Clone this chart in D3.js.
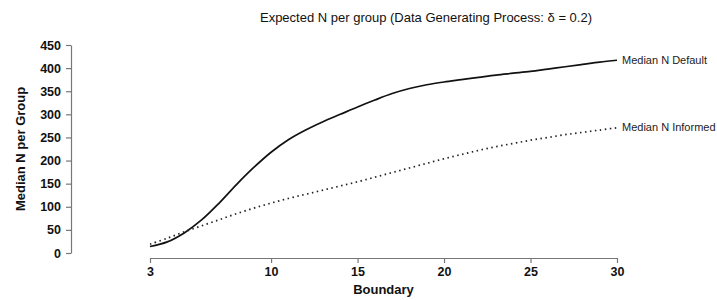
<!DOCTYPE html>
<html><head><meta charset="utf-8">
<script src="https://cdn.jsdelivr.net/npm/d3@7"></script>
<style>body{margin:0;background:#fff}svg{display:block}text{font-family:"Liberation Sans",Arial,sans-serif}</style>
</head><body>
<svg id="c" width="717" height="300"></svg>
<script>
const boundary = [3,4,5,6,7,8,9,10,11,12,13,14,15,16,17,18,19,20,21,22,23,24,25,26,27,28,29,30];
const medianDefault = [14,24,44,72,108,148,185,218,245,266,284,300,316,331,345,356,364,370,375,380,385,389,393,398,403,408,413,417];
const medianInformed = [19,32,46,59,72,85,97,108,118,127,136,145,154,164,174,184,194,204,213,222,230,237,244,250,256,261,266,271];
const xTicks = [3,10,15,20,25,30];
const yTicks = [0,50,100,150,200,250,300,350,400,450];
const seriesLabels = ["Median N Default","Median N Informed"];

const svg = d3.select("#c");
const x = d3.scaleLinear().domain([3,30]).range([150,617]);
const y = d3.scaleLinear().domain([0,450]).range([253,45]);

const xAxis = svg.append("g").attr("transform","translate(0,258)")
  .call(d3.axisBottom(x).tickValues(xTicks).tickSize(5).tickSizeOuter(0).tickFormat(d3.format("d")));
const yAxis = svg.append("g").attr("transform","translate(71,0)")
  .call(d3.axisLeft(y).tickValues(yTicks).tickSize(5).tickSizeOuter(0));
[xAxis,yAxis].forEach(a=>{
  a.selectAll("path,line").attr("stroke","#777").attr("stroke-width",1.2);
  a.selectAll("text").attr("fill","#111").style("font-size","12.5px").style("font-weight","bold");
});
yAxis.selectAll("text").attr("x",-10);
xAxis.selectAll("text").attr("y",9);

const line = d3.line().x((d,i)=>x(boundary[i])).y(d=>y(d)).curve(d3.curveCatmullRom);
svg.append("path").datum(medianDefault).attr("d",line)
  .attr("fill","none").attr("stroke","#111").attr("stroke-width",1.7);
svg.append("path").datum(medianInformed).attr("d",line)
  .attr("fill","none").attr("stroke","#222").attr("stroke-width",1.7)
  .attr("stroke-dasharray","1.5,3.5");

svg.append("text").attr("x",622).attr("y",y(medianDefault[medianDefault.length-1])+4)
  .style("font-size","11px").attr("fill","#222").text(seriesLabels[0]);
svg.append("text").attr("x",622).attr("y",y(medianInformed[medianInformed.length-1])+3)
  .style("font-size","11px").attr("fill","#222").text(seriesLabels[1]);

svg.append("text").attr("x",(150+617)/2).attr("y",294).attr("text-anchor","middle")
  .style("font-size","13px").style("font-weight","bold").attr("fill","#111").text("Boundary");
svg.append("text").attr("transform","translate(25,149) rotate(-90)").attr("text-anchor","middle")
  .style("font-size","13px").style("font-weight","bold").attr("fill","#111").text("Median N per Group");
svg.append("text").attr("x",426).attr("y",22).attr("text-anchor","middle")
  .style("font-size","13px").attr("fill","#111").text("Expected N per group (Data Generating Process: δ = 0.2)");
</script>
</body></html>
